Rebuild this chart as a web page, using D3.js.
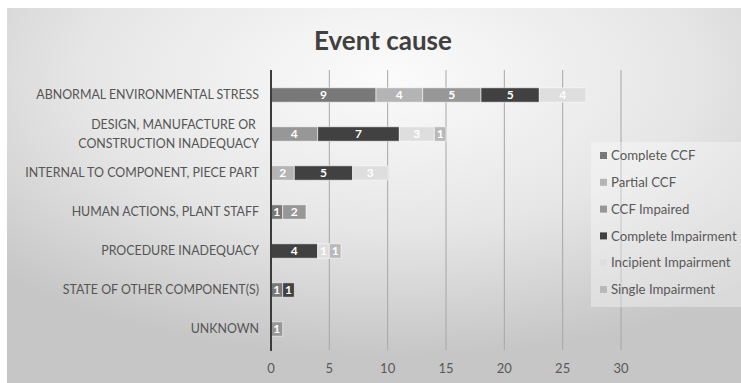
<!DOCTYPE html>
<html>
<head>
<meta charset="utf-8">
<script src="https://cdn.jsdelivr.net/npm/d3@7/dist/d3.min.js"></script>
<style>
  html, body { margin: 0; padding: 0; background: #fff; }
  svg { display: block; }
</style>
</head>
<body>
<svg id="chart" width="741" height="383"></svg>
<script>
// Event causes, top to bottom
const categories = [
  "ABNORMAL ENVIRONMENTAL STRESS",
  "DESIGN, MANUFACTURE OR CONSTRUCTION INADEQUACY",
  "INTERNAL TO COMPONENT, PIECE PART",
  "HUMAN ACTIONS, PLANT STAFF",
  "PROCEDURE INADEQUACY",
  "STATE OF OTHER COMPONENT(S)",
  "UNKNOWN"
];
const categoryLines = [
  ["ABNORMAL ENVIRONMENTAL STRESS"],
  ["DESIGN, MANUFACTURE OR ", "CONSTRUCTION INADEQUACY"],
  ["INTERNAL TO COMPONENT, PIECE PART"],
  ["HUMAN ACTIONS, PLANT STAFF"],
  ["PROCEDURE INADEQUACY"],
  ["STATE OF OTHER COMPONENT(S)"],
  ["UNKNOWN"]
];

// Series, in stacking order (0 = no events)
const seriesNames = ["Complete CCF", "Partial CCF", "CCF Impaired", "Complete Impairment", "Incipient Impairment", "Single Impairment"];
const completeCCF        = [9, 0, 0, 1, 0, 1, 0];
const partialCCF         = [4, 0, 2, 0, 0, 0, 0];
const ccfImpaired        = [5, 4, 0, 2, 0, 0, 1];
const completeImpairment = [5, 7, 5, 0, 4, 1, 0];
const incipientImpairment= [4, 3, 3, 0, 1, 0, 0];
const singleImpairment   = [0, 1, 0, 0, 1, 0, 0];
const seriesValues = [completeCCF, partialCCF, ccfImpaired, completeImpairment, incipientImpairment, singleImpairment];

const xTicks = [0, 5, 10, 15, 20, 25, 30];

const colors = ["#787878", "#b4b4b4", "#979797", "#414141", "#dedede", "#b9b9b9"];

const rows = categories.map((c, i) => {
  const r = { cause: c };
  seriesNames.forEach((s, j) => r[s] = seriesValues[j][i]);
  return r;
});

const svg = d3.select("#chart");
const W = 741, H = 383;

// Background panel with soft radial shading
const defs = svg.append("defs");
const grad = defs.append("radialGradient")
  .attr("id", "bg").attr("cx", "52%").attr("cy", "18%").attr("r", "75%")
  .attr("gradientUnits", "objectBoundingBox");
grad.append("stop").attr("offset", "0%").attr("stop-color", "#fbfbfb");
grad.append("stop").attr("offset", "55%").attr("stop-color", "#e6e6e6");
grad.append("stop").attr("offset", "100%").attr("stop-color", "#c6c6c6");

svg.append("rect").attr("x", 7).attr("y", 8).attr("width", W - 7).attr("height", H - 8)
  .attr("fill", "url(#bg)");

const fontFamily = "Lato, 'Open Sans', 'Liberation Sans', sans-serif";

// Title
svg.append("text")
  .attr("x", 383).attr("y", 50)
  .attr("text-anchor", "middle")
  .attr("font-family", fontFamily)
  .attr("font-weight", "bold")
  .attr("font-size", 26)
  .attr("fill", "#404040")
  .text("Event cause");

const x = d3.scaleLinear().domain([0, 30]).range([271, 621]);
const y = d3.scaleBand().domain(categories).range([75.5, 348.5]).paddingInner(0.63).paddingOuter(0.315);

// Vertical gridlines
svg.append("g").selectAll("line")
  .data(xTicks.filter(t => t > 0))
  .join("line")
  .attr("x1", d => x(d)).attr("x2", d => x(d))
  .attr("y1", 70).attr("y2", 350)
  .attr("stroke", "#a6a6a6").attr("stroke-width", 1);

// Stacked bars
const stack = d3.stack().keys(seriesNames)(rows);
const layers = svg.append("g").selectAll("g")
  .data(stack)
  .join("g")
  .attr("fill", (d, i) => colors[i]);

layers.selectAll("rect")
  .data(d => d.filter(p => p[1] - p[0] > 0))
  .join("rect")
  .attr("x", d => x(d[0]))
  .attr("y", d => y(d.data.cause))
  .attr("width", d => x(d[1]) - x(d[0]))
  .attr("height", y.bandwidth())
  .attr("stroke", "rgba(255,255,255,0.55)")
  .attr("stroke-width", 1);

layers.selectAll("text")
  .data(d => d.filter(p => p[1] - p[0] > 0))
  .join("text")
  .attr("x", d => (x(d[0]) + x(d[1])) / 2)
  .attr("y", d => y(d.data.cause) + y.bandwidth() / 2)
  .attr("dy", "0.36em")
  .attr("text-anchor", "middle")
  .attr("font-family", fontFamily)
  .attr("font-weight", "bold")
  .attr("font-size", 12)
  .attr("fill", "#ffffff")
  .text(d => d[1] - d[0]);

// Category axis line
svg.append("line")
  .attr("x1", x(0)).attr("x2", x(0))
  .attr("y1", 70).attr("y2", 351)
  .attr("stroke", "#3c3c3c").attr("stroke-width", 2);

// Category labels
const labelG = svg.append("g");
categories.forEach((c, i) => {
  const lines = categoryLines[i];
  const cy = y(c) + y.bandwidth() / 2;
  const lh = 19;
  const t = labelG.append("text")
    .attr("x", 259)
    .attr("text-anchor", "end")
    .attr("font-family", fontFamily)
    .attr("font-size", 12.4)
    .attr("fill", "#555555")
    .attr("xml:space", "preserve");
  lines.forEach((ln, k) => {
    t.append("tspan")
      .attr("x", 259)
      .attr("y", cy + (k - (lines.length - 1) / 2) * lh)
      .attr("dy", "0.36em")
      .text(ln);
  });
});

// Value axis labels
svg.append("g").selectAll("text")
  .data(xTicks)
  .join("text")
  .attr("x", d => x(d))
  .attr("y", 368)
  .attr("dy", "0.36em")
  .attr("text-anchor", "middle")
  .attr("font-family", fontFamily)
  .attr("font-size", 13)
  .attr("fill", "#595959")
  .text(d => d);

// Legend
const lg = svg.append("g");
lg.append("rect")
  .attr("x", 591).attr("y", 142).attr("width", 150).attr("height", 165)
  .attr("fill", "rgba(255,255,255,0.35)");
const ly = d3.scalePoint().domain(seriesNames).range([155.5, 289.5]);
seriesNames.forEach((s, i) => {
  lg.append("rect")
    .attr("x", 600).attr("y", ly(s) - 3.5)
    .attr("width", 7).attr("height", 7)
    .attr("fill", colors[i]);
  lg.append("text")
    .attr("x", 611).attr("y", ly(s))
    .attr("dy", "0.36em")
    .attr("font-family", fontFamily)
    .attr("font-size", 13.2)
    .attr("fill", "#595959")
    .text(s);
});
</script>
</body>
</html>
